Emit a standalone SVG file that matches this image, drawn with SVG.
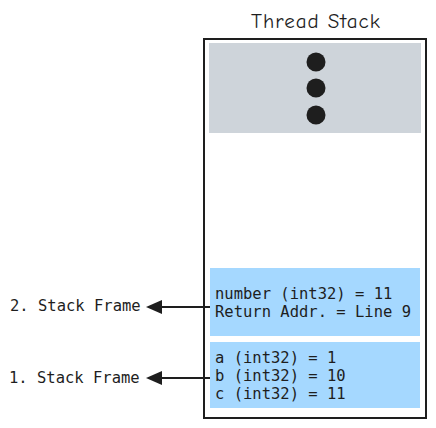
<svg xmlns="http://www.w3.org/2000/svg" width="436" height="428" viewBox="0 0 436 428">
<defs>
<style>
.mono{font-family:"DejaVu Sans Mono","Liberation Mono",monospace;font-size:15.5px;fill:#1e1e1e}
.title{font-family:"Comic Neue","Liberation Sans",sans-serif;font-size:21px;letter-spacing:1px;fill:#1e1e1e}
.conn{stroke:#1e1e1e;stroke-width:2;fill:none}
</style>
</defs>
<rect width="436" height="428" fill="#ffffff"/>
<g id="title"><text class="title" x="316" y="28" text-anchor="middle">Thread Stack</text></g>
<g id="stack"><rect x="204" y="39" width="222" height="379" fill="#ffffff" stroke="#1e1e1e" stroke-width="2"/></g>
<g id="ellipsis">
<rect x="209" y="43" width="212" height="90" fill="#ced4da"/>
<circle cx="316" cy="62" r="9.5" fill="#1e1e1e"/>
<circle cx="316" cy="88" r="9.5" fill="#1e1e1e"/>
<circle cx="316" cy="115" r="9.5" fill="#1e1e1e"/>
</g>
<g id="frame2">
<rect x="210" y="268" width="210" height="68" fill="#a5d8ff"/>
<text class="mono" x="215" y="299">number (int32) = 11</text>
<text class="mono" x="215" y="317">Return Addr. = Line 9</text>
</g>
<g id="frame1">
<rect x="210" y="342" width="210" height="66" fill="#a5d8ff"/>
<text class="mono" x="215" y="363">a (int32) = 1</text>
<text class="mono" x="215" y="381">b (int32) = 10</text>
<text class="mono" x="215" y="399">c (int32) = 11</text>
</g>
<g id="label2"><text class="mono" x="10" y="311">2. Stack Frame</text></g>
<g id="label1"><text class="mono" x="9" y="383">1. Stack Frame</text></g>
<g id="connectors">
<line class="conn" x1="210" y1="307" x2="156" y2="307"/>
<path d="M146,307 L162,300 L162,314 Z" fill="#1e1e1e"/>
<line class="conn" x1="210" y1="378" x2="156" y2="378"/>
<path d="M146,378 L162,371 L162,385 Z" fill="#1e1e1e"/>
</g>
</svg>
